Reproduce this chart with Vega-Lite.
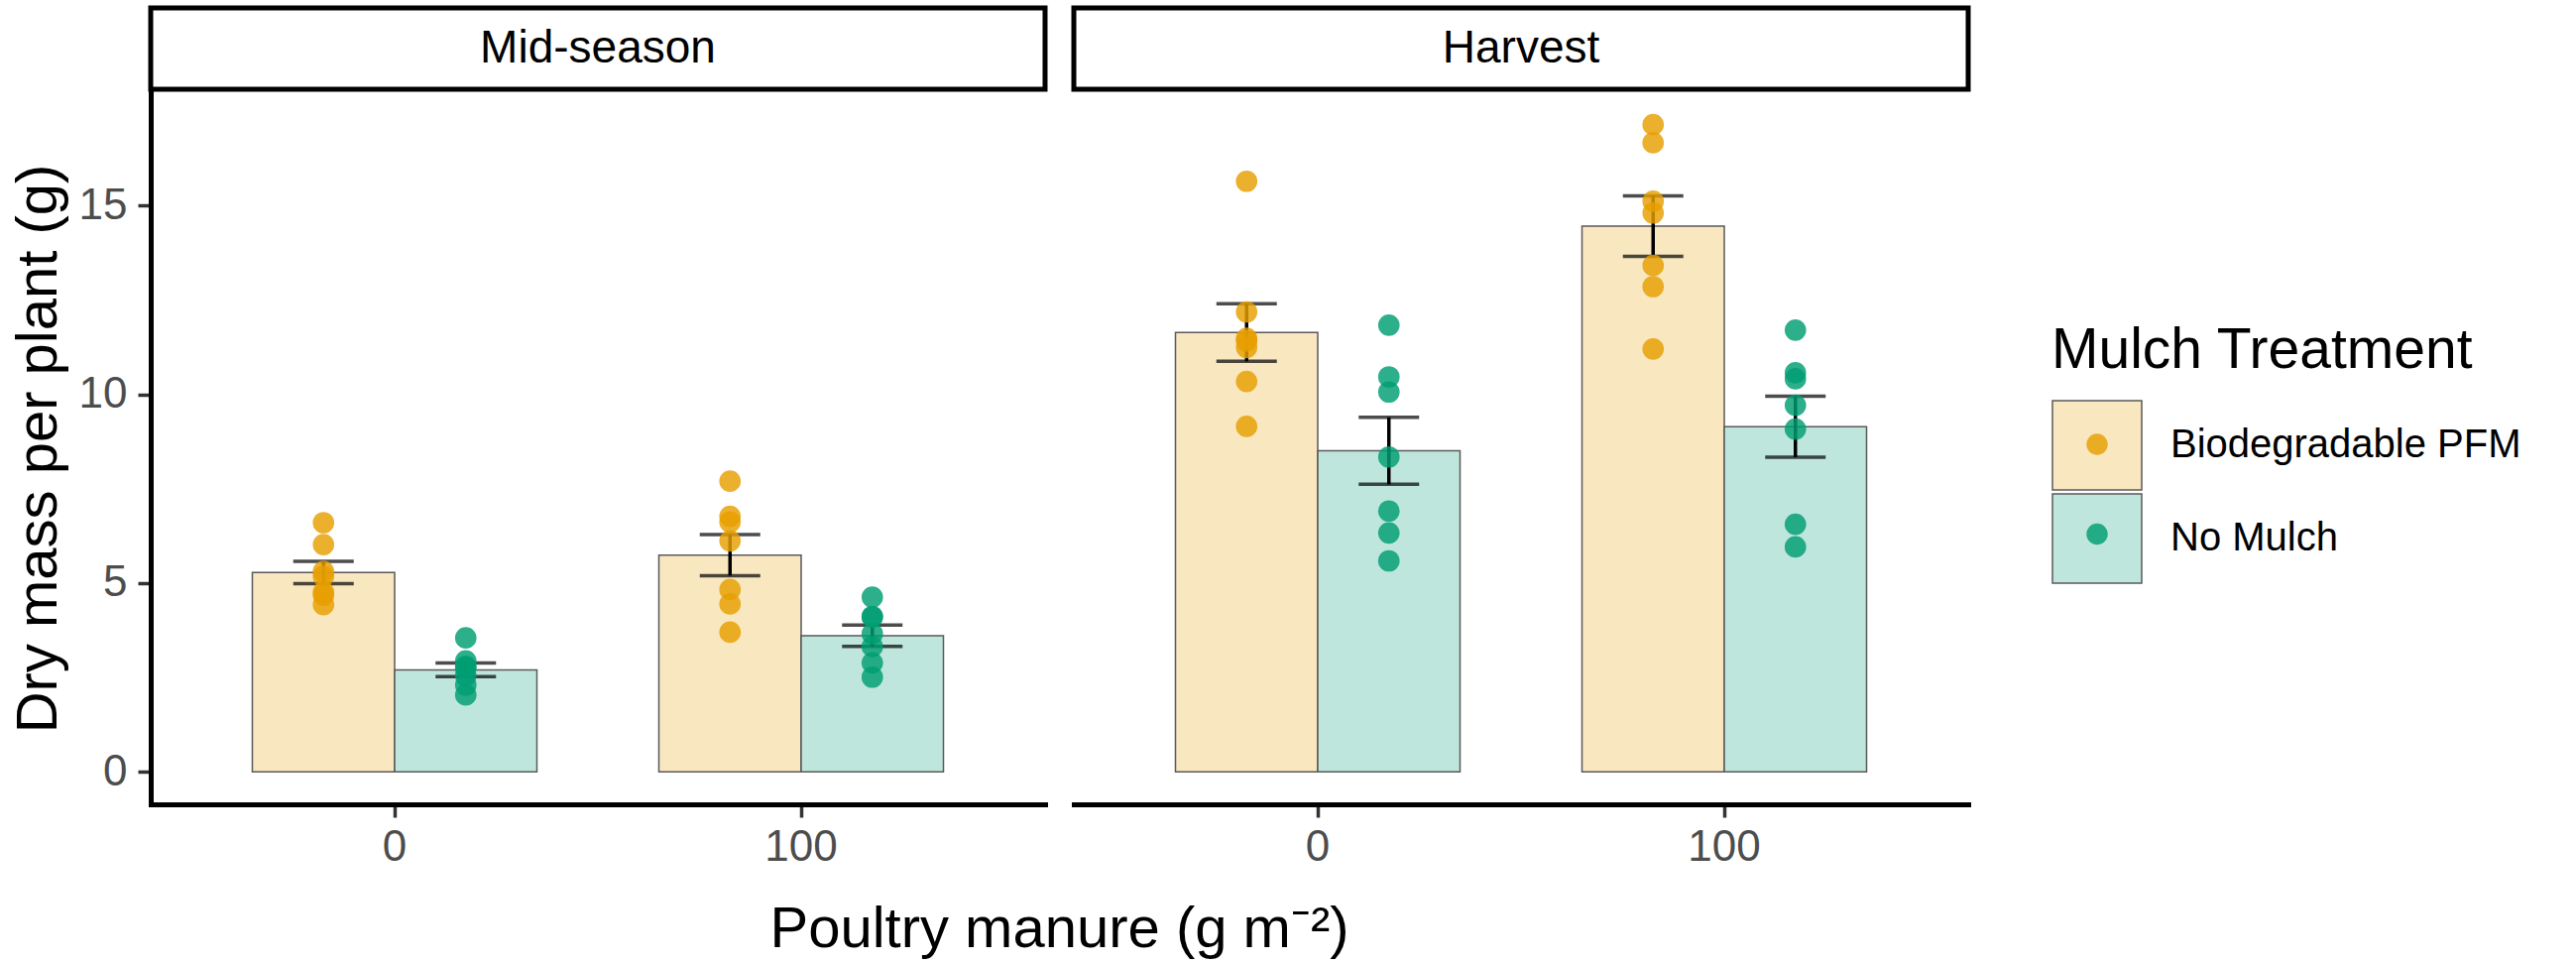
{
  "$schema": "https://vega.github.io/schema/vega-lite/v6.json",
  "background": "white",
  "padding": {"left": 10, "top": 5, "right": 30, "bottom": 10},
  "data": {
    "values": [
      {"Stage": "Mid-season", "Manure": "0", "Treatment": "Biodegradable PFM", "mass": 6.60},
      {"Stage": "Mid-season", "Manure": "0", "Treatment": "Biodegradable PFM", "mass": 6.02},
      {"Stage": "Mid-season", "Manure": "0", "Treatment": "Biodegradable PFM", "mass": 5.31},
      {"Stage": "Mid-season", "Manure": "0", "Treatment": "Biodegradable PFM", "mass": 5.18},
      {"Stage": "Mid-season", "Manure": "0", "Treatment": "Biodegradable PFM", "mass": 4.76},
      {"Stage": "Mid-season", "Manure": "0", "Treatment": "Biodegradable PFM", "mass": 4.68},
      {"Stage": "Mid-season", "Manure": "0", "Treatment": "Biodegradable PFM", "mass": 4.43},
      {"Stage": "Mid-season", "Manure": "0", "Treatment": "No Mulch", "mass": 3.55},
      {"Stage": "Mid-season", "Manure": "0", "Treatment": "No Mulch", "mass": 2.94},
      {"Stage": "Mid-season", "Manure": "0", "Treatment": "No Mulch", "mass": 2.80},
      {"Stage": "Mid-season", "Manure": "0", "Treatment": "No Mulch", "mass": 2.75},
      {"Stage": "Mid-season", "Manure": "0", "Treatment": "No Mulch", "mass": 2.55},
      {"Stage": "Mid-season", "Manure": "0", "Treatment": "No Mulch", "mass": 2.30},
      {"Stage": "Mid-season", "Manure": "0", "Treatment": "No Mulch", "mass": 2.04},
      {"Stage": "Mid-season", "Manure": "100", "Treatment": "Biodegradable PFM", "mass": 7.70},
      {"Stage": "Mid-season", "Manure": "100", "Treatment": "Biodegradable PFM", "mass": 6.77},
      {"Stage": "Mid-season", "Manure": "100", "Treatment": "Biodegradable PFM", "mass": 6.62},
      {"Stage": "Mid-season", "Manure": "100", "Treatment": "Biodegradable PFM", "mass": 6.12},
      {"Stage": "Mid-season", "Manure": "100", "Treatment": "Biodegradable PFM", "mass": 4.83},
      {"Stage": "Mid-season", "Manure": "100", "Treatment": "Biodegradable PFM", "mass": 4.45},
      {"Stage": "Mid-season", "Manure": "100", "Treatment": "Biodegradable PFM", "mass": 3.70},
      {"Stage": "Mid-season", "Manure": "100", "Treatment": "No Mulch", "mass": 4.63},
      {"Stage": "Mid-season", "Manure": "100", "Treatment": "No Mulch", "mass": 4.12},
      {"Stage": "Mid-season", "Manure": "100", "Treatment": "No Mulch", "mass": 4.10},
      {"Stage": "Mid-season", "Manure": "100", "Treatment": "No Mulch", "mass": 3.66},
      {"Stage": "Mid-season", "Manure": "100", "Treatment": "No Mulch", "mass": 3.32},
      {"Stage": "Mid-season", "Manure": "100", "Treatment": "No Mulch", "mass": 2.89},
      {"Stage": "Mid-season", "Manure": "100", "Treatment": "No Mulch", "mass": 2.51},
      {"Stage": "Harvest", "Manure": "0", "Treatment": "Biodegradable PFM", "mass": 15.64},
      {"Stage": "Harvest", "Manure": "0", "Treatment": "Biodegradable PFM", "mass": 12.18},
      {"Stage": "Harvest", "Manure": "0", "Treatment": "Biodegradable PFM", "mass": 11.48},
      {"Stage": "Harvest", "Manure": "0", "Treatment": "Biodegradable PFM", "mass": 11.41},
      {"Stage": "Harvest", "Manure": "0", "Treatment": "Biodegradable PFM", "mass": 11.24},
      {"Stage": "Harvest", "Manure": "0", "Treatment": "Biodegradable PFM", "mass": 10.34},
      {"Stage": "Harvest", "Manure": "0", "Treatment": "Biodegradable PFM", "mass": 9.15},
      {"Stage": "Harvest", "Manure": "0", "Treatment": "No Mulch", "mass": 11.83},
      {"Stage": "Harvest", "Manure": "0", "Treatment": "No Mulch", "mass": 10.46},
      {"Stage": "Harvest", "Manure": "0", "Treatment": "No Mulch", "mass": 10.06},
      {"Stage": "Harvest", "Manure": "0", "Treatment": "No Mulch", "mass": 8.34},
      {"Stage": "Harvest", "Manure": "0", "Treatment": "No Mulch", "mass": 6.91},
      {"Stage": "Harvest", "Manure": "0", "Treatment": "No Mulch", "mass": 6.33},
      {"Stage": "Harvest", "Manure": "0", "Treatment": "No Mulch", "mass": 5.59},
      {"Stage": "Harvest", "Manure": "100", "Treatment": "Biodegradable PFM", "mass": 17.14},
      {"Stage": "Harvest", "Manure": "100", "Treatment": "Biodegradable PFM", "mass": 16.66},
      {"Stage": "Harvest", "Manure": "100", "Treatment": "Biodegradable PFM", "mass": 15.11},
      {"Stage": "Harvest", "Manure": "100", "Treatment": "Biodegradable PFM", "mass": 14.80},
      {"Stage": "Harvest", "Manure": "100", "Treatment": "Biodegradable PFM", "mass": 13.41},
      {"Stage": "Harvest", "Manure": "100", "Treatment": "Biodegradable PFM", "mass": 12.85},
      {"Stage": "Harvest", "Manure": "100", "Treatment": "Biodegradable PFM", "mass": 11.20},
      {"Stage": "Harvest", "Manure": "100", "Treatment": "No Mulch", "mass": 11.70},
      {"Stage": "Harvest", "Manure": "100", "Treatment": "No Mulch", "mass": 10.57},
      {"Stage": "Harvest", "Manure": "100", "Treatment": "No Mulch", "mass": 10.41},
      {"Stage": "Harvest", "Manure": "100", "Treatment": "No Mulch", "mass": 9.71},
      {"Stage": "Harvest", "Manure": "100", "Treatment": "No Mulch", "mass": 9.08},
      {"Stage": "Harvest", "Manure": "100", "Treatment": "No Mulch", "mass": 6.56},
      {"Stage": "Harvest", "Manure": "100", "Treatment": "No Mulch", "mass": 5.96}
    ]
  },
  "config": {
    "font": "Liberation Sans",
    "view": {"stroke": null},
    "axis": {
      "grid": false,
      "domainColor": "black",
      "domainWidth": 5,
      "domainCap": "square",
      "tickColor": "#333333",
      "tickWidth": 3.5,
      "tickSize": 13,
      "labelFont": "Liberation Sans",
      "labelFontSize": 44,
      "labelColor": "#4D4D4D",
      "titleFont": "Liberation Sans",
      "titleFontSize": 58,
      "titleFontWeight": "normal",
      "titleColor": "black"
    },
    "legend": {
      "labelFont": "Liberation Sans",
      "titleFont": "Liberation Sans",
      "labelFontSize": 40,
      "titleFontSize": 57,
      "titleFontWeight": "normal",
      "labelColor": "black",
      "titleColor": "black",
      "labelLimit": 1000,
      "titleLimit": 1000
    }
  },
  "spacing": 0,
  "vconcat": [
    {
      "spacing": 29,
      "bounds": "flush",
      "hconcat": [
        {
          "width": 902,
          "height": 82,
          "view": {"stroke": "black", "strokeWidth": 5, "fill": "white"},
          "transform": [
            {"filter": "datum.Stage === 'Mid-season'"},
            {"aggregate": [{"op": "count", "as": "n"}], "groupby": ["Stage"]}
          ],
          "mark": {"type": "text", "fontSize": 46, "color": "black", "baseline": "middle", "align": "center", "font": "Liberation Sans"},
          "encoding": {"text": {"field": "Stage", "type": "nominal"}}
        },
        {
          "width": 902,
          "height": 82,
          "view": {"stroke": "black", "strokeWidth": 5, "fill": "white"},
          "transform": [
            {"filter": "datum.Stage === 'Harvest'"},
            {"aggregate": [{"op": "count", "as": "n"}], "groupby": ["Stage"]}
          ],
          "mark": {"type": "text", "fontSize": 46, "color": "black", "baseline": "middle", "align": "center", "font": "Liberation Sans"},
          "encoding": {"text": {"field": "Stage", "type": "nominal"}}
        }
      ]
    },
    {
      "spacing": 29,
      "bounds": "flush",
      "hconcat": [
        {
          "width": 902,
          "height": 718,
          "transform": [{"filter": "datum.Stage === 'Mid-season'"}],
          "encoding": {
            "x": {
              "field": "Manure", "type": "nominal", "sort": ["0", "100"],
              "scale": {"paddingInner": 0.3, "paddingOuter": 0.25},
              "axis": {"labelAngle": 0, "labelPadding": 8, "title": "Poultry manure (g m⁻²)", "titleX": 916, "titleY": 143, "titleAlign": "center", "titleBaseline": "alphabetic", "titleAnchor": null}
            },
            "xOffset": {"field": "Treatment", "type": "nominal", "sort": ["Biodegradable PFM", "No Mulch"], "scale": {"paddingInner": 0, "paddingOuter": 0}}
          },
          "layer": [
            {
              "mark": {"type": "bar", "stroke": "#5A5A5A", "strokeWidth": 1.5},
              "encoding": {
                "y": {"aggregate": "mean", "field": "mass", "type": "quantitative", "title": "Dry mass per plant (g)",
                  "scale": {"domain": [-0.857, 17.997], "nice": false, "zero": false},
                  "axis": {"values": [0, 5, 10, 15], "labelPadding": 11, "titlePadding": 11}},
                "color": {"field": "Treatment", "type": "nominal", "sort": ["Biodegradable PFM", "No Mulch"],
                  "scale": {"range": ["#F9E7BF", "#BFE6DC"]},
                  "legend": {"title": "Mulch Treatment", "orient": "none", "legendX": 1917, "legendY": 318,
                    "symbolType": "square", "symbolSize": 8100, "symbolStrokeColor": "#5A5A5A", "symbolStrokeWidth": 1.5,
                    "symbolOpacity": 1, "rowPadding": -6, "labelOffset": 28, "titlePadding": 20}}
              }
            },
            {
              "mark": {"type": "errorbar", "extent": "stderr", "color": "black", "rule": {"strokeWidth": 3.5}, "ticks": {"size": 61, "thickness": 3.5, "color": "black"}},
              "encoding": {
                "y": {"field": "mass", "type": "quantitative", "title": "Dry mass per plant (g)", "scale": {"domain": [-0.857, 17.997], "nice": false, "zero": false}}
              }
            },
            {
              "mark": {"type": "point", "filled": true, "size": 470, "opacity": 0.82, "strokeWidth": 0},
              "encoding": {
                "y": {"field": "mass", "type": "quantitative", "title": "Dry mass per plant (g)", "scale": {"domain": [-0.857, 17.997], "nice": false, "zero": false}},
                "fill": {"field": "Treatment", "type": "nominal", "sort": ["Biodegradable PFM", "No Mulch"],
                  "scale": {"range": ["#E69F00", "#009E73"]},
                  "legend": {"title": null, "labelOpacity": 0, "labelFontSize": 1, "orient": "none", "legendX": 1917, "legendY": 429,
                    "symbolType": "circle", "symbolSize": 460, "symbolStrokeColor": "transparent", "symbolStrokeWidth": 0, "symbolOffset": 35,
                    "symbolOpacity": 0.85, "rowPadding": 68.5, "labelOffset": 28}}
              }
            }
          ]
        },
        {
          "width": 902,
          "height": 718,
          "transform": [{"filter": "datum.Stage === 'Harvest'"}],
          "encoding": {
            "x": {
              "field": "Manure", "type": "nominal", "sort": ["0", "100"],
              "scale": {"paddingInner": 0.3, "paddingOuter": 0.25},
              "axis": {"labelAngle": 0, "labelPadding": 8, "title": null}
            },
            "xOffset": {"field": "Treatment", "type": "nominal", "sort": ["Biodegradable PFM", "No Mulch"], "scale": {"paddingInner": 0, "paddingOuter": 0}}
          },
          "layer": [
            {
              "mark": {"type": "bar", "stroke": "#5A5A5A", "strokeWidth": 1.5},
              "encoding": {
                "y": {"aggregate": "mean", "field": "mass", "type": "quantitative",
                  "scale": {"domain": [-0.857, 17.997], "nice": false, "zero": false}, "axis": null},
                "color": {"field": "Treatment", "type": "nominal", "sort": ["Biodegradable PFM", "No Mulch"]}
              }
            },
            {
              "mark": {"type": "errorbar", "extent": "stderr", "color": "black", "rule": {"strokeWidth": 3.5}, "ticks": {"size": 61, "thickness": 3.5, "color": "black"}},
              "encoding": {
                "y": {"field": "mass", "type": "quantitative", "scale": {"domain": [-0.857, 17.997], "nice": false, "zero": false}, "axis": null}
              }
            },
            {
              "mark": {"type": "point", "filled": true, "size": 470, "opacity": 0.82, "strokeWidth": 0},
              "encoding": {
                "y": {"field": "mass", "type": "quantitative", "scale": {"domain": [-0.857, 17.997], "nice": false, "zero": false}, "axis": null},
                "fill": {"field": "Treatment", "type": "nominal", "sort": ["Biodegradable PFM", "No Mulch"]}
              }
            }
          ]
        }
      ]
    }
  ]
}
